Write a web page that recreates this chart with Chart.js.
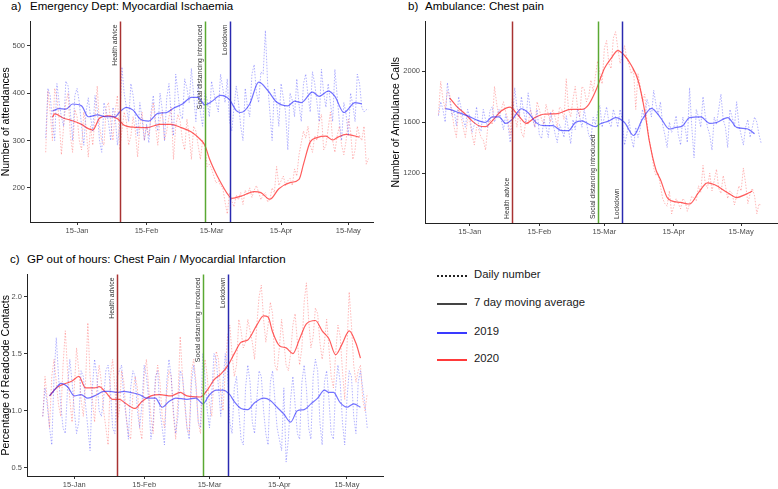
<!DOCTYPE html>
<html>
<head>
<meta charset="utf-8">
<script src="https://cdn.jsdelivr.net/npm/chart.js@4.4.1/dist/chart.umd.min.js"></script>
<style>
  body { margin: 0; background: #fff; }
  #wrap { position: relative; width: 778px; height: 489px; overflow: hidden; font-family: "Liberation Sans", Arial, sans-serif; }
  .ttl { position: absolute; font-size: 11.5px; line-height: 13px; color: #000; white-space: nowrap; }
  .box { position: absolute; }
  .leg { position: absolute; left: 437px; width: 30px; height: 0; }
  .legtxt { position: absolute; left: 474px; font-size: 11.3px; line-height: 13px; color: #1a1a1a; white-space: nowrap; }
</style>
</head>
<body>
<div id="wrap">
  <div class="ttl" style="left:11px;top:0">a)</div>
  <div class="ttl" style="left:30px;top:0">Emergency Dept: Myocardial Ischaemia</div>
  <div class="ttl" style="left:408px;top:0">b)</div>
  <div class="ttl" style="left:425px;top:0">Ambulance: Chest pain</div>
  <div class="ttl" style="left:10px;top:253px">c)</div>
  <div class="ttl" style="left:27px;top:253px">GP out of hours: Chest Pain / Myocardial Infarction</div>

  <div class="box" style="left:0;top:15px"><canvas id="chartA" width="390" height="225"></canvas></div>
  <div class="box" style="left:390px;top:15px"><canvas id="chartB" width="388" height="225"></canvas></div>
  <div class="box" style="left:0;top:268px"><canvas id="chartC" width="390" height="221"></canvas></div>

  <div class="leg" style="top:275px;border-top:2px dotted #222"></div>
  <div class="legtxt" style="top:268px">Daily number</div>
  <div class="leg" style="top:303px;border-top:2px solid #444"></div>
  <div class="legtxt" style="top:296px">7 day moving average</div>
  <div class="leg" style="top:332px;border-top:2px solid #3a3aff"></div>
  <div class="legtxt" style="top:325px">2019</div>
  <div class="leg" style="top:359px;border-top:2px solid #ff3a3a"></div>
  <div class="legtxt" style="top:352px">2020</div>
</div>
<script>
// x axis: day of year (2020), daily values start on day 1
const firstDay = 1;
const tickDays = [15, 46, 75, 106, 136];
const tickLabels = ['15-Jan', '15-Feb', '15-Mar', '15-Apr', '15-May'];

const eventDays = [34, 72, 83];
const eventLabels = ['Health advice', 'Social distancing introduced', 'Lockdown'];
const eventColors = ['#a83232', '#5aa832', '#2a2ab0'];

// a) Emergency Dept
const edTicks = [200, 300, 400, 500];
const edDaily2019 = [
  305, 410, 395, 340, 300, 420, 380,
  350, 330, 425, 415, 360, 300, 395,
  410, 380, 330, 290, 360, 390, 350,
  320, 395, 365, 300, 275, 380, 360,
  340, 300, 370, 350, 290, 330, 455,
  400, 370, 340, 420, 395, 350, 310,
  380, 345, 300, 335, 295, 360, 395,
  340, 320, 400, 365, 300, 390, 420,
  350, 310, 440, 400, 355, 345, 430,
  410, 380, 452, 395, 340, 420, 360,
  330, 405, 385, 350, 425, 400, 380,
  360, 440, 410, 380, 430, 340, 320,
  370, 415, 380, 330, 300, 410, 370,
  350, 440, 460, 400, 380, 445, 440,
  532, 420, 360, 300, 410, 380, 330,
  420, 390, 360, 280, 400, 385, 350,
  430, 375, 340, 420, 440, 395, 360,
  445, 420, 380, 340, 450, 400, 370,
  420, 380, 340, 450, 395, 340, 300,
  380, 355, 310, 400, 375, 340, 440,
  420, 370, 360, 365, 365
];
const edDaily2020 = [
  275, 405, 360, 300, 410, 390, 345,
  270, 330, 380, 400, 310, 275, 365,
  350, 300, 280, 360, 330, 265, 330,
  290, 350, 415, 330, 300, 290, 370,
  380, 340, 300, 360, 395, 280, 320,
  360, 340, 290, 310, 350, 320, 265,
  330, 360, 300, 330, 310, 350, 380,
  330, 290, 345, 360, 300, 320, 350,
  370, 260, 330, 355, 340, 300, 280,
  345, 310, 260, 330, 320, 290, 260,
  300, 290, 245, 250, 240, 225, 210,
  215, 205, 200, 170, 145, 190, 172,
  160, 185, 175, 190, 165, 195, 185,
  200, 180, 195, 205, 190, 175, 185,
  190, 170, 175, 200, 190, 245, 205,
  215, 225, 205, 215, 220, 205, 240,
  225, 270, 295, 320, 305, 330, 290,
  275, 310, 300, 340, 355, 280, 290,
  325, 360, 300, 275, 310, 330, 290,
  270, 300, 345, 320, 260, 280, 330,
  310, 300, 330, 250, 262
];
const edMaDays2019 = [4, 7, 10, 13, 17, 20, 24, 28, 32, 34, 37, 40, 43, 47, 51, 55, 58, 62, 66, 69, 72, 75, 79, 83, 86, 88, 92, 96, 100, 104, 109, 112, 115, 120, 123, 127, 130, 134, 139, 142];
const edMa2019 = [362, 367, 366, 377, 373, 350, 354, 350, 350, 360, 370, 364, 346, 341, 357, 359, 368, 377, 391, 391, 375, 382, 395, 386, 363, 359, 377, 423, 406, 381, 373, 383, 380, 402, 393, 404, 393, 359, 380, 377];
const edMaDays2020 = [4, 5, 9, 12, 17, 20, 22, 25, 29, 33, 36, 40, 46, 52, 57, 61, 66, 70, 72, 74, 76, 79, 82, 84, 89, 94, 97, 101, 105, 110, 114, 116, 119, 122, 126, 129, 131, 135, 141];
const edMa2020 = [349, 356, 347, 343, 334, 325, 322, 347, 352, 346, 332, 328, 327, 334, 334, 328, 318, 302, 290, 262, 240, 212, 188, 178, 184, 192, 190, 176, 198, 211, 218, 250, 297, 306, 309, 301, 306, 313, 307];

// b) Ambulance
const ambTicks = [1200, 1600, 2000];
const ambDaily2019 = [
  1650, 1760, 1700, 1600, 1910, 1780, 1650,
  1690, 1570, 1800, 1720, 1620, 1560, 1700,
  1640, 1520, 1580, 1720, 1560, 1530, 1700,
  1620, 1560, 1690, 1720, 1600, 1650, 1700,
  1620, 1540, 1660, 1580, 1440, 1600, 1870,
  1720, 1640, 1800, 1680, 1600, 1830, 1700,
  1620, 1560, 1700, 1500, 1470, 1620, 1560,
  1480, 1680, 1600, 1510, 1440, 1580, 1540,
  1480, 1650, 1540, 1430, 1620, 1540, 1700,
  1640, 1560, 1700, 1600, 1500, 1460, 1640,
  1580, 1680, 1730, 1560, 1640, 1720, 1600,
  1560, 1700, 1640, 1560, 1700, 1610, 1420,
  1500, 1620, 1480, 1400, 1560, 1480, 1550,
  1700, 1620, 1780, 1720, 1640, 1850, 1740,
  1660, 1760, 1580, 1500, 1400, 1600, 1520,
  1560, 1650, 1500, 1420, 1640, 1560, 1440,
  1870, 1560, 1320, 1700, 1640, 1560, 1800,
  1650, 1560, 1500, 1380, 1640, 1580, 1700,
  1820, 1620, 1560, 1400, 1700, 1640, 1560,
  1760, 1580, 1500, 1420, 1560, 1620, 1480,
  1560, 1640, 1600, 1500, 1430
];
const ambDaily2020 = [
  1660, 1920, 1780, 1700, 1840, 1820, 1680,
  1560, 1480, 1700, 1650, 1560, 1480, 1620,
  1600, 1500, 1420, 1560, 1540, 1480, 1460,
  1380, 1560, 1620, 1580, 1880, 1740, 1640,
  1700, 1760, 1680, 1620, 1500, 1800, 1660,
  1560, 1700, 1520, 1480, 1620, 1580, 1700,
  1640, 1560, 1760, 1700, 1620, 1580, 1740,
  1660, 1600, 1700, 1640, 1560, 1720, 1700,
  1620, 1940, 1700, 1640, 1780, 1880, 1720,
  1640, 1880, 1860, 1760, 1800, 1930, 1840,
  1960, 2080, 1980, 1900, 2180, 2240, 2060,
  2020, 2260, 2310, 2180, 2060, 2120, 2200,
  2100, 2050, 1980, 2020, 1700, 1980, 1880,
  1760, 1820, 1600, 1460, 1380, 1240, 1180,
  1200, 1100, 1000, 960, 940, 1060, 880,
  940, 1000, 960, 920, 1000, 980, 900,
  960, 1020, 1000, 980, 1100, 1050, 1260,
  1120, 1080, 1200, 1060, 1140, 1230, 1080,
  1040, 1180, 1100, 1000, 1060, 1040, 950,
  1020, 1100, 1060, 1240, 1120, 960, 1040,
  1080, 1020, 880, 960, 940
];
const ambMaDays2019 = [4, 6, 10, 14, 19, 22, 25, 28, 31, 34, 38, 41, 45, 48, 52, 56, 59, 62, 65, 68, 71, 73, 77, 80, 84, 88, 92, 96, 100, 104, 107, 110, 113, 118, 122, 125, 130, 134, 139, 142];
const ambMa2019 = [1705, 1700, 1675, 1649, 1610, 1597, 1641, 1641, 1590, 1623, 1705, 1674, 1590, 1572, 1572, 1533, 1533, 1597, 1610, 1585, 1564, 1585, 1610, 1636, 1597, 1495, 1623, 1708, 1636, 1546, 1559, 1572, 1636, 1641, 1590, 1597, 1636, 1559, 1546, 1508];
const ambMaDays2020 = [6, 9, 13, 16, 19, 22, 25, 29, 33, 35, 38, 40, 44, 48, 54, 60, 65, 68, 71, 73, 75, 78, 81, 84, 87, 90, 93, 95, 98, 100, 103, 105, 109, 113, 117, 121, 124, 130, 134, 138, 141];
const ambMa2020 = [1790, 1726, 1662, 1610, 1572, 1564, 1610, 1687, 1718, 1687, 1623, 1590, 1636, 1662, 1667, 1700, 1700, 1738, 1840, 1931, 2021, 2100, 2162, 2123, 2046, 1931, 1687, 1456, 1226, 1149, 1008, 982, 970, 957, 1046, 1123, 1110, 1046, 1008, 1033, 1059];

// c) GP out of hours
const gpTicks = [0.5, 1.0, 1.5, 2.0];
const gpDaily2019 = [
  0.95, 1.20, 1.05, 0.85, 0.70, 1.30, 1.64,
  1.30, 1.05, 0.85, 0.80, 1.20, 1.45, 1.25,
  1.00, 0.80, 0.90, 1.35, 1.30, 1.05, 0.85,
  0.65, 1.20, 1.45, 1.30, 1.00, 0.95, 1.10,
  1.35, 1.40, 1.20, 0.85, 0.80, 1.30, 1.35,
  1.40, 1.10, 0.95, 0.75, 1.20, 1.35, 1.30,
  1.00, 0.85, 1.05, 1.40, 1.30, 1.10, 0.75,
  0.90, 1.30, 1.35, 1.00, 0.85, 0.70, 1.25,
  1.45, 1.30, 1.00, 0.80, 0.95, 1.35, 1.30,
  1.10, 0.85, 0.75, 1.25, 1.40, 1.20, 0.90,
  0.85, 1.50, 1.30, 1.00, 0.85, 1.15, 1.50,
  1.45, 1.20, 0.95, 1.25, 1.50, 1.35, 0.90,
  0.80, 1.20, 1.30, 1.00, 0.75, 0.70, 1.20,
  1.40, 1.25, 0.90, 0.80, 1.10, 1.35, 1.30,
  1.00, 0.80, 0.70, 1.25, 1.35, 1.10, 0.85,
  0.75, 0.65, 1.20, 0.55, 0.75, 1.10, 1.30,
  1.05, 0.80, 0.75, 1.25, 1.40, 1.20, 0.85,
  0.75, 1.30, 1.45, 1.35, 0.90, 0.70, 1.25,
  1.35, 1.10, 0.80, 0.75, 1.20, 1.40, 1.25,
  0.90, 0.70, 1.10, 1.35, 1.30, 0.95, 0.80,
  1.25, 1.35, 1.20, 1.05, 0.85
];
const gpDaily2020 = [
  0.95, 1.30, 1.10, 0.85, 1.30, 1.45, 1.25,
  1.05, 0.95, 1.40, 1.70, 1.35, 1.10, 0.90,
  1.20, 1.55, 1.35, 1.10, 0.95, 1.25, 1.77,
  1.30, 1.10, 0.90, 1.20, 1.40, 1.25, 1.00,
  0.85, 0.70, 1.30, 1.45, 1.20, 0.90, 1.00,
  1.35, 1.25, 0.95, 0.80, 0.75, 1.15, 1.30,
  1.20, 0.85, 0.75, 1.30, 1.45, 1.20, 0.95,
  0.80, 1.25, 1.40, 1.25, 0.95, 0.85, 1.15,
  1.35, 1.30, 0.95, 0.75, 1.10, 1.65, 1.30,
  1.05, 0.85, 0.80, 1.35, 1.45, 1.25, 0.90,
  0.80, 1.25, 1.45, 1.30, 1.05, 0.95, 1.30,
  1.52, 1.45, 1.15, 1.00, 1.35, 1.65, 1.75,
  1.50, 1.30, 1.40, 1.80, 1.70, 1.55, 1.60,
  1.80, 1.70, 1.60, 1.45, 1.75, 2.00, 2.10,
  1.80, 1.60, 1.75, 1.95, 1.85, 1.40, 1.35,
  1.55, 1.80, 1.60, 1.40, 1.35, 1.50, 1.75,
  1.85, 1.60, 1.40, 1.55, 1.95, 2.12, 1.80,
  1.55, 1.65, 1.90, 1.85, 1.60, 1.45, 1.60,
  1.80, 1.55, 1.30, 1.20, 1.50, 1.75, 1.65,
  1.35, 1.10, 1.55, 2.04, 1.75, 1.40, 1.25,
  1.35, 1.40, 1.10, 1.00, 1.15
];
const gpMaDays2019 = [4, 7, 9, 12, 15, 18, 21, 25, 28, 31, 34, 37, 40, 44, 47, 51, 54, 57, 60, 65, 69, 72, 75, 78, 81, 84, 86, 89, 92, 95, 99, 102, 105, 108, 111, 114, 117, 120, 123, 126, 128, 130, 133, 136, 139, 142];
const gpMa2019 = [1.13, 1.20, 1.24, 1.21, 1.13, 1.14, 1.11, 1.14, 1.17, 1.17, 1.16, 1.17, 1.16, 1.14, 1.11, 1.11, 1.03, 1.08, 1.11, 1.10, 1.11, 1.06, 1.14, 1.18, 1.18, 1.14, 1.08, 1.02, 1.01, 1.07, 1.11, 1.09, 1.03, 0.97, 0.90, 1.00, 1.01, 1.06, 1.11, 1.18, 1.16, 1.16, 1.07, 1.03, 1.06, 1.03];
const gpMaDays2020 = [4, 7, 10, 14, 17, 20, 24, 26, 29, 32, 35, 38, 42, 45, 49, 53, 58, 62, 65, 71, 74, 77, 80, 83, 86, 89, 92, 96, 99, 101, 103, 106, 109, 112, 115, 118, 122, 125, 128, 131, 134, 137, 140, 142];
const gpMa2020 = [1.13, 1.20, 1.23, 1.26, 1.30, 1.20, 1.20, 1.21, 1.16, 1.10, 1.10, 1.06, 1.02, 1.08, 1.13, 1.14, 1.13, 1.16, 1.13, 1.12, 1.18, 1.27, 1.32, 1.39, 1.50, 1.60, 1.62, 1.75, 1.83, 1.82, 1.69, 1.57, 1.55, 1.50, 1.63, 1.76, 1.79, 1.70, 1.63, 1.49, 1.59, 1.70, 1.59, 1.46];

const FONT = '"Liberation Sans", Arial, sans-serif';

// vertical event lines with rotated labels
const eventLines = {
  id: 'eventLines',
  afterDatasetsDraw(chart, args, opts) {
    const { ctx, chartArea, scales } = chart;
    ctx.save();
    eventDays.forEach((d, i) => {
      const x = Math.round(scales.x.getPixelForValue(d)) + 0.5;
      ctx.strokeStyle = eventColors[i];
      ctx.lineWidth = 1.5;
      ctx.beginPath();
      ctx.moveTo(x, chartArea.top);
      ctx.lineTo(x, chartArea.bottom);
      ctx.stroke();

      ctx.save();
      ctx.fillStyle = '#333';
      ctx.font = '6.8px ' + FONT;
      ctx.textBaseline = 'bottom';
      if (opts.pos === 'bottom') {
        ctx.translate(x - 1.5, chartArea.bottom - 4);
        ctx.rotate(-Math.PI / 2);
        ctx.textAlign = 'left';
      } else {
        ctx.translate(x - 1.5, chartArea.top + 3);
        ctx.rotate(-Math.PI / 2);
        ctx.textAlign = 'right';
      }
      ctx.fillText(eventLabels[i], 0, 0);
      ctx.restore();
    });
    ctx.restore();
  }
};

function daily(vals) {
  return vals.map((v, i) => ({ x: firstDay + i, y: v }));
}
function pairs(days, vals) {
  return days.map((d, i) => ({ x: d, y: vals[i] }));
}

function makePanel(id, p) {
  const datasets = [
    { data: daily(p.daily2019), borderColor: 'rgba(40,40,255,0.35)', borderWidth: 1, borderDash: [1.5, 1.5] },
    { data: daily(p.daily2020), borderColor: 'rgba(255,40,40,0.32)', borderWidth: 1, borderDash: [1.5, 1.5] },
    { data: pairs(p.maDays2019, p.ma2019), borderColor: 'rgba(40,40,255,0.65)', borderWidth: 1.2, cubicInterpolationMode: 'monotone' },
    { data: pairs(p.maDays2020, p.ma2020), borderColor: 'rgba(255,30,30,0.72)', borderWidth: 1.2, cubicInterpolationMode: 'monotone' }
  ];
  datasets.forEach(ds => { ds.pointRadius = 0; ds.fill = false; });

  return new Chart(document.getElementById(id), {
    type: 'line',
    data: { datasets },
    options: {
      responsive: false,
      animation: false,
      devicePixelRatio: 1,
      layout: { padding: p.padding },
      plugins: {
        legend: { display: false },
        tooltip: { enabled: false },
        eventLines: { pos: p.eventPos }
      },
      scales: {
        x: {
          type: 'linear',
          min: p.xMin,
          max: p.xMax,
          afterBuildTicks: axis => { axis.ticks = tickDays.map(v => ({ value: v })); },
          afterFit: axis => { axis.height = p.xHeight; },
          ticks: {
            autoSkip: false,
            maxRotation: 0,
            padding: 1,
            color: '#4d4d4d',
            font: { family: FONT, size: 7.5 },
            callback: v => tickLabels[tickDays.indexOf(v)]
          },
          grid: { drawOnChartArea: false, drawTicks: true, tickLength: 3, color: '#333' },
          border: { display: true, color: '#222', width: 1 }
        },
        y: {
          min: p.yMin,
          max: p.yMax,
          afterBuildTicks: axis => { axis.ticks = p.yTicks.map(v => ({ value: v })); },
          afterFit: axis => { axis.width = p.yWidth; },
          ticks: {
            padding: 2,
            color: '#4d4d4d',
            font: { family: FONT, size: 7.5 },
            callback: v => p.yFmt ? v.toFixed(1) : String(v)
          },
          title: {
            display: true,
            text: p.yTitle,
            color: '#000',
            font: { family: FONT, size: 10.5 },
            padding: { top: 0, bottom: 0 }
          },
          grid: { drawOnChartArea: false, drawTicks: true, tickLength: 3, color: '#333' },
          border: { display: true, color: '#222', width: 1 }
        }
      }
    },
    plugins: [eventLines]
  });
}

makePanel('chartA', {
  daily2019: edDaily2019, daily2020: edDaily2020,
  maDays2019: edMaDays2019, ma2019: edMa2019,
  maDays2020: edMaDays2020, ma2020: edMa2020,
  yTicks: edTicks, yMin: 128, yMax: 551, yTitle: 'Number of attendances',
  xMin: -6, xMax: 147, yWidth: 30, xHeight: 18,
  padding: { left: 0, right: 17, top: 2, bottom: 0 },
  eventPos: 'top'
});

makePanel('chartB', {
  daily2019: ambDaily2019, daily2020: ambDaily2020,
  maDays2019: ambMaDays2019, ma2019: ambMa2019,
  maDays2020: ambMaDays2020, ma2020: ambMa2020,
  yTicks: ambTicks, yMin: 808, yMax: 2390, yTitle: 'Number of Ambulance Calls',
  xMin: -5, xMax: 152, yWidth: 35, xHeight: 17,
  padding: { left: 0, right: 1, top: 2, bottom: 0 },
  eventPos: 'bottom'
});

makePanel('chartC', {
  daily2019: gpDaily2019, daily2020: gpDaily2020,
  maDays2019: gpMaDays2019, ma2019: gpMa2019,
  maDays2020: gpMaDays2020, ma2020: gpMa2020,
  yTicks: gpTicks, yMin: 0.428, yMax: 2.193, yTitle: 'Percentage of Readcode Contacts', yFmt: true,
  xMin: -6, xMax: 152, yWidth: 27, xHeight: 13,
  padding: { left: 0, right: 7, top: 4, bottom: 0 },
  eventPos: 'top'
});
</script>
</body>
</html>
